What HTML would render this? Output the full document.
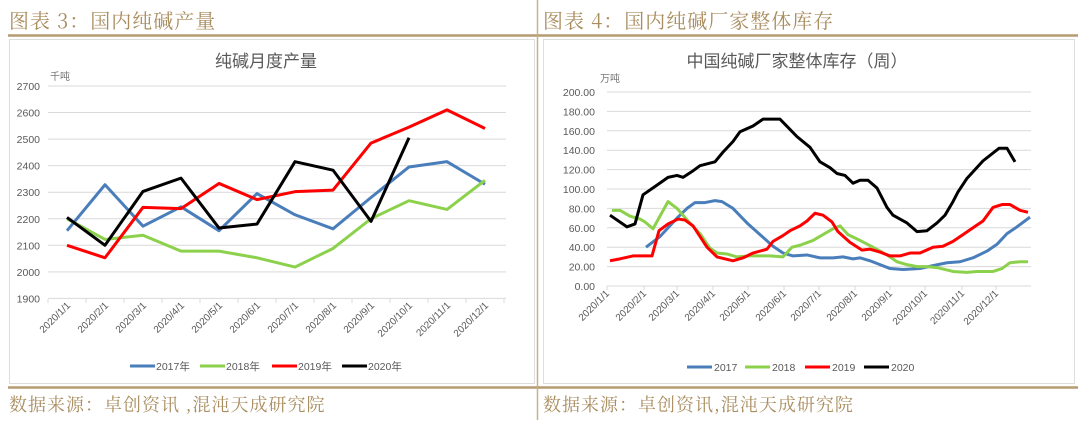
<!DOCTYPE html>
<html><head><meta charset="utf-8"><style>
body{margin:0;background:#fff}
text{font-family:"Liberation Sans","Noto Sans CJK SC",sans-serif}
.cj{font-family:"Noto Serif CJK SC","Noto Sans CJK SC",serif}
</style></head><body>
<svg id="s" width="1080" height="420" xmlns="http://www.w3.org/2000/svg">
<rect width="1080" height="420" fill="#fff"/>
<line x1="537.5" y1="0" x2="537.5" y2="420" stroke="#c8b28a" stroke-width="1.5"/>
<text class="cj" x="9" y="28" font-size="20" fill="#a98d5f" letter-spacing="1">图表 3：国内纯碱产量</text>
<text class="cj" x="543" y="28" font-size="20" fill="#a98d5f" letter-spacing="1">图表 4：国内纯碱厂家整体库存</text>
<line x1="8" y1="35.5" x2="537" y2="35.5" stroke="#b59b70" stroke-width="2.5"/>
<line x1="538" y1="35.5" x2="1078" y2="35.5" stroke="#b59b70" stroke-width="2.5"/>
<rect x="9.5" y="39.5" width="525" height="344" fill="#fff" stroke="#ddd"/>
<rect x="543.5" y="39.5" width="531" height="344" fill="#fff" stroke="#ddd"/>
<line x1="8" y1="387.5" x2="537" y2="387.5" stroke="#b59b70" stroke-width="2.5"/>
<line x1="538" y1="387.5" x2="1078" y2="387.5" stroke="#b59b70" stroke-width="2.5"/>
<text class="cj" x="9" y="411" font-size="18" fill="#a98d5f" letter-spacing="1">数据来源：卓创资讯 ,混沌天成研究院</text>
<text class="cj" x="543" y="411" font-size="18" fill="#a98d5f" letter-spacing="1">数据来源：卓创资讯,混沌天成研究院</text>
<text x="266" y="67" font-size="17" fill="#595959" text-anchor="middle">纯碱月度产量</text>
<text x="50" y="80" font-size="10" fill="#777">千吨</text>
<text x="797" y="67" font-size="17" fill="#595959" text-anchor="middle">中国纯碱厂家整体库存（周）</text>
<text x="600" y="82" font-size="10" fill="#777">万吨</text>
<g id="g"></g>
</svg>
<script>
const g=document.getElementById('g');let h='';
// left
for(let v=1900;v<=2700;v+=100){const y=86+(2700-v)*0.2655;h+=`<line x1="48" x2="506" y1="${y}" y2="${y}" stroke="#d9d9d9"/><text x="40" y="${y+4}" font-size="10.5" fill="#595959" text-anchor="end">${v}</text>`;}
for(let i=0;i<=12;i++){const x=48+i*38;h+=`<line x1="${x}" x2="${x}" y1="299" y2="303" stroke="#d9d9d9"/>`;}
for(let i=0;i<12;i++){const x=71+i*38;h+=`<text transform="translate(${x},306) rotate(-45)" font-size="10" fill="#595959" text-anchor="end">2020/${i+1}/1</text>`;}
const L={'#4a7ebb':[2155,2328,2172,2245,2155,2295,2215,2162,2280,2395,2415,2330],
'#8cd14c':[2200,2122,2138,2078,2078,2053,2018,2088,2200,2268,2235,2345],
'#ff0000':[2100,2053,2243,2238,2333,2272,2302,2308,2485,2545,2610,2540],
'#000000':[2205,2100,2303,2353,2165,2180,2415,2383,2190,2505]};
for(const c in L){h+=`<polyline fill="none" stroke="${c}" stroke-width="3" stroke-linejoin="round" points="${L[c].map((v,i)=>(67+i*38)+','+(86+(2700-v)*0.2655)).join(' ')}"/>`;}
const lg=[['#4a7ebb','2017年',130],['#8cd14c','2018年',200],['#ff0000','2019年',272],['#000000','2020年',342]];
lg.forEach(a=>{h+=`<line x1="${a[2]}" x2="${a[2]+25}" y1="366" y2="366" stroke="${a[0]}" stroke-width="3"/><text x="${a[2]+26}" y="370" font-size="10.5" fill="#595959">${a[1]}</text>`;});
// right
for(let v=0;v<=200;v+=20){const y=286-v*0.97;h+=`<line x1="607" x2="1031" y1="${y}" y2="${y}" stroke="#d9d9d9"/><text x="595" y="${y+4}" font-size="10.5" fill="#595959" text-anchor="end">${v.toFixed(2)}</text>`;}
const tx=[607,644,677,713,748,784,819,855,890,925,962,996];
tx.forEach((x,i)=>{h+=`<line x1="${x}" x2="${x}" y1="286" y2="290" stroke="#d9d9d9"/><text transform="translate(${x+3},294) rotate(-45)" font-size="10" fill="#595959" text-anchor="end">2020/${i+1}/1</text>`;});
const R={'#4a7ebb':[[646,40],[660,51],[677,70],[687,80],[695,86],[705,86],[715,88],[722,87],[733,80],[747,65],[760,53],[773,41],[783,34],[793,31],[807,32],[820,29],[833,29],[843,30],[853,28],[860,29],[870,26],[880,22],[890,18],[903,17],[920,18],[933,21],[947,24],[960,25],[973,29],[987,36],[997,43],[1007,54],[1017,61],[1030,71]],
'#8cd14c':[[612,78],[620,78],[630,72],[640,69],[645,66],[653,59],[668,87],[677,80],[688,67],[700,54],[710,39],[717,34],[727,33],[737,30],[750,31],[760,31],[770,31],[783,30],[792,40],[800,42],[813,47],[823,53],[833,59],[840,62],[848,53],[860,47],[873,40],[887,32],[897,25],[907,22],[917,20],[927,20],[937,19],[953,15],[967,14],[977,15],[993,15],[1002,18],[1010,24],[1020,25],[1028,25]],
'#ff0000':[[610,26],[620,28],[633,31],[652,31],[659,57],[668,64],[678,69],[685,68],[693,62],[707,40],[717,30],[733,26],[743,29],[753,34],[767,38],[773,46],[783,52],[790,57],[800,62],[807,67],[815,75],[823,73],[832,66],[838,56],[850,45],[862,37],[870,38],[880,35],[890,31],[900,31],[910,34],[920,34],[933,40],[943,41],[953,46],[963,53],[973,60],[983,67],[993,81],[1002,84],[1010,84],[1020,78],[1028,76]],
'#000000':[[610,73],[627,61],[635,64],[643,94],[657,104],[668,112],[677,114],[683,112],[692,118],[700,124],[715,128],[723,138],[733,149],[740,159],[753,165],[763,172],[773,172],[780,172],[797,154],[810,143],[820,128],[830,122],[837,116],[845,114],[853,106],[860,109],[868,109],[877,101],[887,81],[893,73],[907,65],[917,56],[927,57],[937,65],[945,73],[953,87],[958,97],[967,111],[983,129],[999,142],[1007,142],[1015,128]]};
for(const c in R){h+=`<polyline fill="none" stroke="${c}" stroke-width="3" stroke-linejoin="round" points="${R[c].map(p=>p[0]+','+(286-p[1]*0.97)).join(' ')}"/>`;}
const lr=[['#4a7ebb','2017',687],['#8cd14c','2018',745],['#ff0000','2019',805],['#000000','2020',864]];
lr.forEach(a=>{h+=`<line x1="${a[2]}" x2="${a[2]+25}" y1="367" y2="367" stroke="${a[0]}" stroke-width="3"/><text x="${a[2]+27}" y="371" font-size="10.5" fill="#595959">${a[1]}</text>`;});
g.innerHTML=h;
</script>
</body></html>
